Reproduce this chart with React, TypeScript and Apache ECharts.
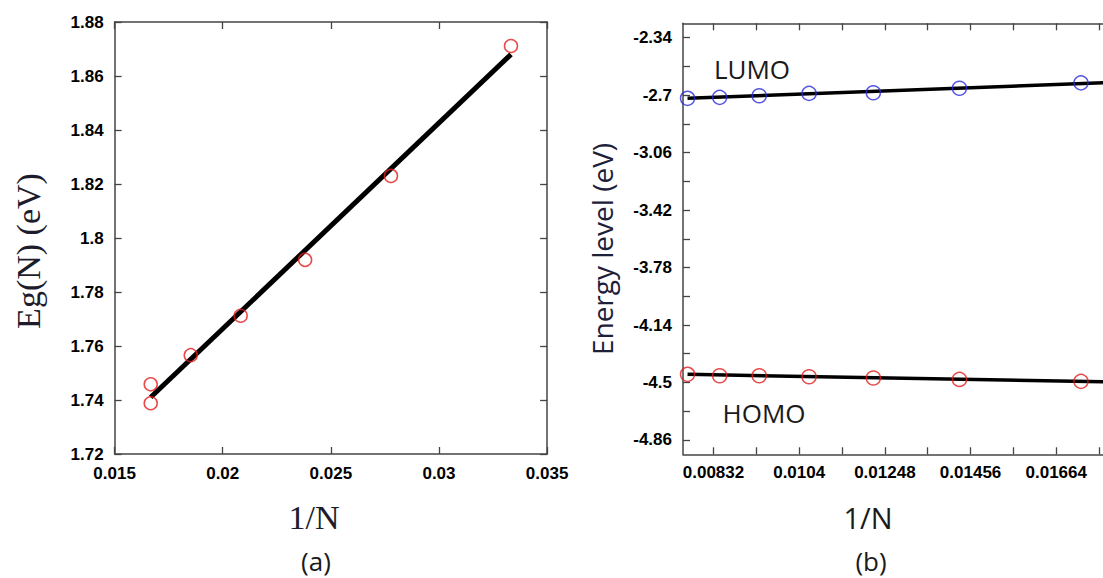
import React, { useEffect, useRef } from "react";
import * as echarts from "echarts";

// ---- Panel (a) data ----
const xTickLabelsA = ["0.015", "0.02", "0.025", "0.03", "0.035"];
const yTickLabelsA = ["1.72", "1.74", "1.76", "1.78", "1.8", "1.82", "1.84", "1.86", "1.88"];
const invNA = [0.01667, 0.01667, 0.01852, 0.02083, 0.02381, 0.02778, 0.03333];
const egA = [1.7458, 1.7388, 1.7566, 1.7712, 1.7919, 1.823, 1.8711];
const fitInvNA = [0.01667, 0.03333];
const fitEgA = [1.741, 1.868];

// ---- Panel (b) data ----
const xTickLabelsB = ["0.00832", "0.0104", "0.01248", "0.01456", "0.01664"];
const yTickLabelsB = ["-4.86", "-4.5", "-4.14", "-3.78", "-3.42", "-3.06", "-2.7", "-2.34"];
const invNB = [0.00769, 0.00847, 0.00943, 0.01064, 0.0122, 0.01429, 0.01724];
const lumoB = [-2.72, -2.714, -2.704, -2.689, -2.685, -2.657, -2.623];
const homoB = [-4.449, -4.458, -4.458, -4.464, -4.472, -4.481, -4.493];
const fitInvNB = [0.00769, 0.0184];
const fitLumoB = [-2.72, -2.616];
const fitHomoB = [-4.449, -4.498];

const rangeA = { xMin: 0.015, xMax: 0.035, yMin: 1.72, yMax: 1.88 };
const rangeB = { xMin: 0.00758, xMax: 0.01843, yMin: -4.95, yMax: -2.25 };

const AXIS_COLOR = "#444";
const RED = "#e31b1b";
const BLUE = "#2b2bdc";

function labelValues(labels: string[]) {
  return labels.map((s) => parseFloat(s));
}
function withMidTicks(labels: string[], min: number, max: number) {
  const v = labelValues(labels);
  const step = v[1] - v[0];
  const out: number[] = [];
  v.forEach((x) => {
    out.push(x);
    out.push(x + step / 2);
    out.push(x - step / 2);
  });
  const uniq: number[] = [];
  out.forEach((x) => {
    if (x >= min - 1e-12 && x <= max + 1e-12 && !uniq.some((u) => Math.abs(u - x) < 1e-9)) uniq.push(x);
  });
  return uniq.sort((a, b) => a - b);
}
function fmt(labels: string[]) {
  return (v: number) => {
    const s = labels.find((l) => Math.abs(parseFloat(l) - v) < 1e-9);
    return s ?? "";
  };
}

function axis(opts: {
  gridIndex: number;
  position: string;
  min: number;
  max: number;
  labels: string[];
  ticks: number[];
  showLabel: boolean;
  margin: number;
}) {
  return {
    type: "value",
    gridIndex: opts.gridIndex,
    position: opts.position,
    min: opts.min,
    max: opts.max,
    axisLine: { show: true, onZero: false, lineStyle: { color: AXIS_COLOR, width: 1.5 } },
    axisTick: {
      show: true,
      inside: true,
      length: 7,
      customValues: opts.ticks,
      lineStyle: { color: AXIS_COLOR, width: 1.3 },
    },
    axisLabel: {
      show: opts.showLabel,
      customValues: labelValues(opts.labels),
      formatter: fmt(opts.labels),
      showMinLabel: true,
      showMaxLabel: true,
      margin: opts.margin,
      fontFamily: "Liberation Sans",
      fontWeight: "bold",
      fontSize: 17,
      color: "#000",
    },
    splitLine: { show: false },
  };
}

function pairs(xs: number[], ys: number[]) {
  return xs.map((x, i) => [x, ys[i]]);
}

export default function App() {
  const ref = useRef<HTMLDivElement>(null);
  useEffect(() => {
    if (!ref.current) return;
    const chart = echarts.init(ref.current, null, { renderer: "svg" });
    const ticksXA = labelValues(xTickLabelsA);
    const ticksYA = labelValues(yTickLabelsA);
    const ticksXB = withMidTicks(xTickLabelsB, rangeB.xMin, rangeB.xMax);
    const ticksYB = withMidTicks(yTickLabelsB, rangeB.yMin, rangeB.yMax);
    chart.setOption({
      animation: false,
      backgroundColor: "#fff",
      grid: [
        { left: 114.6, top: 22, width: 432.5, height: 432 },
        { left: 683, top: 23.3, width: 447, height: 431 },
      ],
      xAxis: [
        axis({ gridIndex: 0, position: "bottom", min: rangeA.xMin, max: rangeA.xMax, labels: xTickLabelsA, ticks: ticksXA, showLabel: true, margin: 11 }),
        axis({ gridIndex: 0, position: "top", min: rangeA.xMin, max: rangeA.xMax, labels: xTickLabelsA, ticks: ticksXA, showLabel: false, margin: 11 }),
        axis({ gridIndex: 1, position: "bottom", min: rangeB.xMin, max: rangeB.xMax, labels: xTickLabelsB, ticks: ticksXB, showLabel: true, margin: 10 }),
        axis({ gridIndex: 1, position: "top", min: rangeB.xMin, max: rangeB.xMax, labels: xTickLabelsB, ticks: ticksXB, showLabel: false, margin: 10 }),
      ],
      yAxis: [
        axis({ gridIndex: 0, position: "left", min: rangeA.yMin, max: rangeA.yMax, labels: yTickLabelsA, ticks: ticksYA, showLabel: true, margin: 11 }),
        axis({ gridIndex: 0, position: "right", min: rangeA.yMin, max: rangeA.yMax, labels: yTickLabelsA, ticks: ticksYA, showLabel: false, margin: 11 }),
        axis({ gridIndex: 1, position: "left", min: rangeB.yMin, max: rangeB.yMax, labels: yTickLabelsB, ticks: ticksYB, showLabel: true, margin: 11 }),
        axis({ gridIndex: 1, position: "right", min: rangeB.yMin, max: rangeB.yMax, labels: yTickLabelsB, ticks: ticksYB, showLabel: false, margin: 11 }),
      ],
      series: [
        {
          type: "line",
          xAxisIndex: 0,
          yAxisIndex: 0,
          data: pairs(fitInvNA, fitEgA),
          symbol: "none",
          lineStyle: { color: "#000", width: 5 },
          z: 2,
        },
        {
          type: "scatter",
          xAxisIndex: 0,
          yAxisIndex: 0,
          data: pairs(invNA, egA),
          symbol: "circle",
          symbolSize: 13,
          itemStyle: { color: "rgba(0,0,0,0)", borderColor: RED, borderWidth: 1.5 },
          z: 3,
        },
        {
          type: "line",
          xAxisIndex: 2,
          yAxisIndex: 2,
          data: pairs(fitInvNB, fitLumoB),
          symbol: "none",
          lineStyle: { color: "#000", width: 3.5 },
          z: 2,
        },
        {
          type: "line",
          xAxisIndex: 2,
          yAxisIndex: 2,
          data: pairs(fitInvNB, fitHomoB),
          symbol: "none",
          lineStyle: { color: "#000", width: 3.5 },
          z: 2,
        },
        {
          type: "scatter",
          xAxisIndex: 2,
          yAxisIndex: 2,
          data: pairs(invNB, lumoB),
          symbol: "circle",
          symbolSize: 14,
          itemStyle: { color: "rgba(0,0,0,0)", borderColor: BLUE, borderWidth: 1.5 },
          z: 3,
        },
        {
          type: "scatter",
          xAxisIndex: 2,
          yAxisIndex: 2,
          data: pairs(invNB, homoB),
          symbol: "circle",
          symbolSize: 14,
          itemStyle: { color: "rgba(0,0,0,0)", borderColor: RED, borderWidth: 1.5 },
          z: 3,
        },
      ],
      graphic: [
        {
          type: "text",
          x: 28,
          y: 251,
          rotation: Math.PI / 2,
          style: {
            text: "Eg(N) (eV)",
            fontFamily: "Liberation Serif",
            fontSize: 34,
            fill: "#1c1c2c",
            textAlign: "center",
            textVerticalAlign: "middle",
          },
        },
        {
          type: "text",
          x: 314,
          y: 517,
          style: {
            text: "1/N",
            fontFamily: "Liberation Serif",
            fontSize: 34,
            fill: "#1c1c2c",
            textAlign: "center",
            textVerticalAlign: "middle",
          },
        },
        {
          type: "text",
          x: 316,
          y: 561,
          style: {
            text: "(a)",
            fontFamily: "Open Sans",
            fontSize: 26,
            fill: "#1a1a1a",
            textAlign: "center",
            textVerticalAlign: "middle",
          },
        },
        {
          type: "text",
          x: 602,
          y: 249,
          rotation: Math.PI / 2,
          style: {
            text: "Energy level (eV)",
            fontFamily: "Open Sans",
            fontSize: 28,
            fill: "#1c2038",
            textAlign: "center",
            textVerticalAlign: "middle",
          },
        },
        {
          type: "text",
          x: 868,
          y: 517,
          style: {
            text: "1/N",
            fontFamily: "Open Sans",
            fontSize: 29,
            fill: "#1a1a1a",
            textAlign: "center",
            textVerticalAlign: "middle",
          },
        },
        {
          type: "text",
          x: 871,
          y: 561,
          style: {
            text: "(b)",
            fontFamily: "Open Sans",
            fontSize: 26,
            fill: "#1a1a1a",
            textAlign: "center",
            textVerticalAlign: "middle",
          },
        },
        {
          type: "text",
          x: 752,
          y: 69,
          style: {
            text: "LUMO",
            fontFamily: "Open Sans",
            fontSize: 26,
            fill: "#1a1a1a",
            textAlign: "center",
            textVerticalAlign: "middle",
          },
        },
        {
          type: "text",
          x: 764,
          y: 413,
          style: {
            text: "HOMO",
            fontFamily: "Open Sans",
            fontSize: 26,
            fill: "#1a1a1a",
            textAlign: "center",
            textVerticalAlign: "middle",
          },
        },
      ],
    });
    return () => chart.dispose();
  }, []);

  return (
    <div
      style={{
        position: "fixed",
        left: 0,
        top: 0,
        width: 1103,
        height: 578,
        overflow: "hidden",
        background: "#fff",
      }}
    >
      <div ref={ref} style={{ width: 1200, height: 578 }} />
    </div>
  );
}
